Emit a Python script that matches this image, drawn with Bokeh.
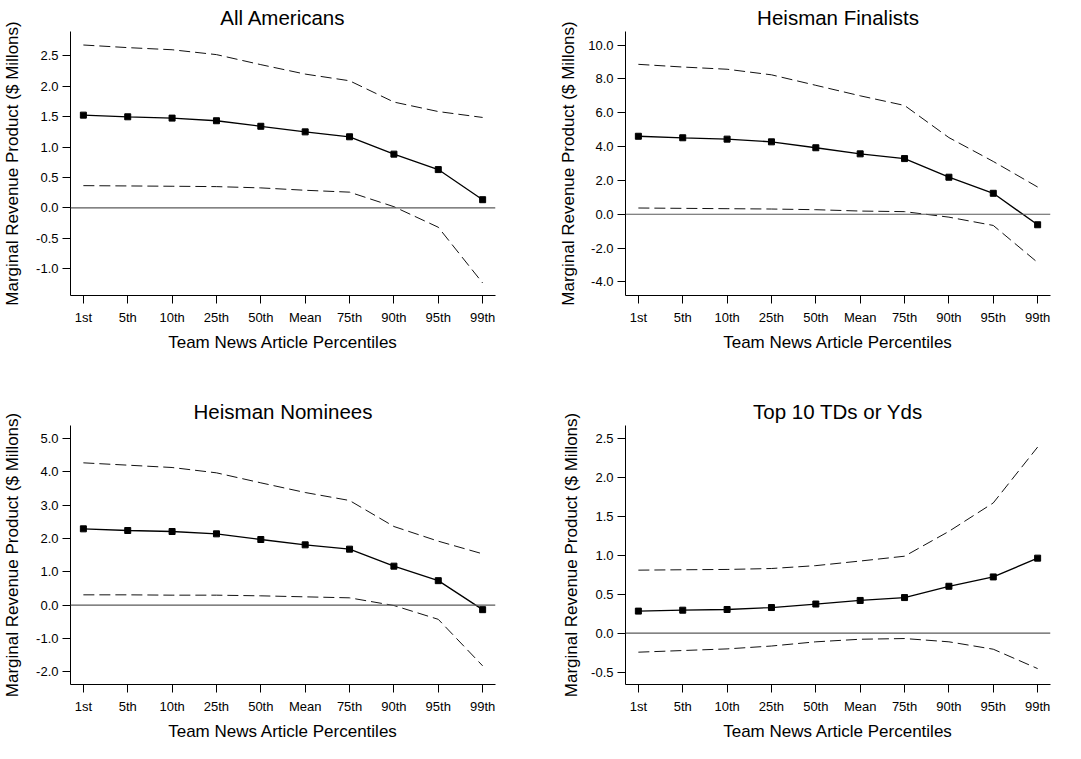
from bokeh.plotting import figure
from bokeh.layouts import column, row
from bokeh.models import Range1d, FixedTicker, NumeralTickFormatter, Span
from bokeh.embed import file_html
from bokeh.resources import INLINE

percentiles = ["1st", "5th", "10th", "25th", "50th", "Mean", "75th", "90th", "95th", "99th"]

titles = ["All Americans", "Heisman Finalists", "Heisman Nominees", "Top 10 TDs or Yds"]

aa_est = [1.525, 1.498, 1.476, 1.433, 1.342, 1.250, 1.169, 0.884, 0.630, 0.135]
aa_hi = [2.678, 2.635, 2.600, 2.520, 2.355, 2.200, 2.090, 1.740, 1.584, 1.487]
aa_lo = [0.366, 0.361, 0.356, 0.350, 0.329, 0.290, 0.259, 0.020, -0.318, -1.234]

hf_est = [4.61, 4.52, 4.44, 4.28, 3.93, 3.57, 3.29, 2.19, 1.24, -0.62]
hf_hi = [8.86, 8.70, 8.57, 8.24, 7.62, 7.00, 6.43, 4.53, 3.12, 1.61]
hf_lo = [0.37, 0.35, 0.33, 0.31, 0.27, 0.19, 0.155, -0.17, -0.66, -2.85]

hn_est = [2.29, 2.24, 2.21, 2.14, 1.97, 1.81, 1.68, 1.17, 0.735, -0.135]
hn_hi = [4.27, 4.20, 4.13, 3.97, 3.67, 3.38, 3.14, 2.36, 1.92, 1.54]
hn_lo = [0.31, 0.31, 0.30, 0.30, 0.28, 0.25, 0.22, -0.01, -0.425, -1.82]

td_est = [0.282, 0.294, 0.303, 0.328, 0.373, 0.419, 0.456, 0.601, 0.721, 0.962]
td_hi = [0.808, 0.813, 0.817, 0.829, 0.866, 0.925, 0.987, 1.306, 1.671, 2.388]
td_lo = [-0.245, -0.224, -0.203, -0.166, -0.112, -0.079, -0.070, -0.112, -0.207, -0.456]

aa_ticks = [-1.0, -0.5, 0.0, 0.5, 1.0, 1.5, 2.0, 2.5]
hf_ticks = [-4.0, -2.0, 0.0, 2.0, 4.0, 6.0, 8.0, 10.0]
hn_ticks = [-2.0, -1.0, 0.0, 1.0, 2.0, 3.0, 4.0, 5.0]
td_ticks = [-0.5, 0.0, 0.5, 1.0, 1.5, 2.0, 2.5]

FONT = "Liberation Sans"


def make_panel(title, est, hi, lo, ticks, yrange, width, height, bl, br, bt, bb, ystand):
    xs = list(range(1, len(percentiles) + 1))
    p = figure(width=width, height=height, output_backend="svg", toolbar_location=None,
               x_range=Range1d(0.71, len(percentiles) + 0.29),
               y_range=Range1d(*yrange),
               min_border_left=bl, min_border_right=br, min_border_top=bt, min_border_bottom=bb)
    p.title.text = title
    p.title.align = "center"
    p.title.text_font = FONT
    p.title.text_font_size = "20.5px"
    p.title.text_font_style = "normal"
    p.title.text_color = "black"
    p.title.standoff = 6
    p.outline_line_color = None
    p.xgrid.visible = False
    p.ygrid.visible = False
    p.background_fill_color = "white"
    p.border_fill_color = "white"

    zero = Span(location=0, dimension="width", line_color="#5a5a5a", line_width=1.2)
    p.add_layout(zero)

    p.line(xs, hi, line_color="#111111", line_width=1, line_dash="11 5")
    p.line(xs, lo, line_color="#111111", line_width=1, line_dash="11 5")
    p.line(xs, est, line_color="black", line_width=1.3)
    p.scatter(xs, est, marker="square", size=6, color="black")

    p.xaxis.ticker = FixedTicker(ticks=xs)
    p.xaxis.major_label_overrides = {i + 1: lab for i, lab in enumerate(percentiles)}
    p.yaxis.ticker = FixedTicker(ticks=ticks)
    p.yaxis.formatter = NumeralTickFormatter(format="0.0")
    for ax in (p.xaxis, p.yaxis):
        ax.axis_line_color = "black"
        ax.axis_line_width = 1
        ax.major_tick_line_color = "black"
        ax.major_tick_out = 8
        ax.major_tick_in = 0
        ax.minor_tick_line_color = None
        ax.major_label_text_font = FONT
        ax.major_label_text_font_size = "13px"
        ax.major_label_text_color = "black"
        ax.axis_label_text_font = FONT
        ax.axis_label_text_font_size = "17px"
        ax.axis_label_text_font_style = "normal"
        ax.axis_label_text_color = "black"
    p.xaxis.axis_label = "Team News Article Percentiles"
    p.yaxis.axis_label = "Marginal Revenue Product ($ Millons)"
    p.xaxis.major_label_standoff = 6
    p.yaxis.major_label_standoff = 4
    p.xaxis.axis_label_standoff = 5
    p.yaxis.axis_label_standoff = ystand
    return p


p1 = make_panel(titles[0], aa_est, aa_hi, aa_lo, aa_ticks, (-1.44, 2.90), 532, 366, 68, 37, 26, 71, 11)
p2 = make_panel(titles[1], hf_est, hf_hi, hf_lo, hf_ticks, (-4.8, 10.8), 532, 366, 93, 14, 26, 71, 7)
p3 = make_panel(titles[2], hn_est, hn_hi, hn_lo, hn_ticks, (-2.38, 5.39), 532, 377, 68, 37, 59, 54, 11)
p4 = make_panel(titles[3], td_est, td_hi, td_lo, td_ticks, (-0.66, 2.665), 532, 377, 93, 14, 59, 54, 7)

layout = column(row(p1, p2), row(p3, p4))

open("out.html", "w").write(file_html(layout, INLINE))
